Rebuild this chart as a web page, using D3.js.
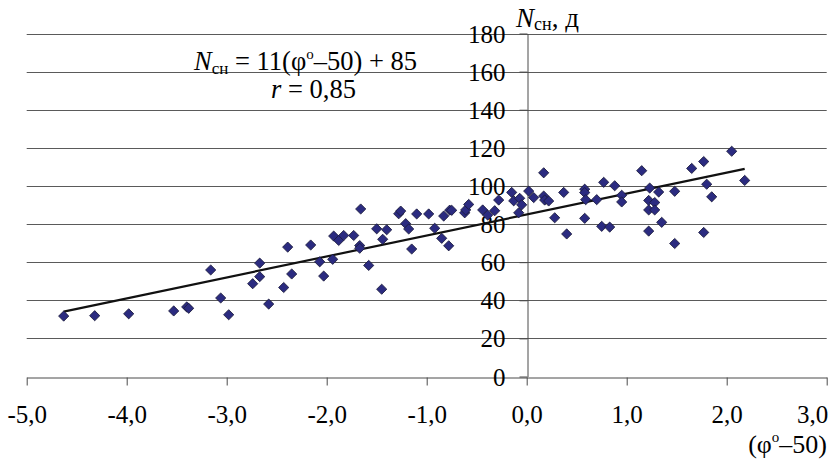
<!DOCTYPE html>
<html>
<head>
<meta charset="utf-8">
<script src="https://cdn.jsdelivr.net/npm/d3@7"></script>
<style>
  body { margin: 0; background: #fff; }
  svg { display: block; }
</style>
</head>
<body>
<svg id="chart" width="840" height="464"></svg>
<script>
// Deviation of latitude from 50° (φ° – 50)
const phiDev = [
  -4.63, -4.32, -3.98, -3.53, -3.40, -3.38, -3.16, -3.06, -2.98, -2.74,
  -2.67, -2.67, -2.58, -2.43, -2.39, -2.35, -2.16, -2.07, -2.03, -1.93,
  -1.94, -1.88, -1.83, -1.73, -1.67, -1.67, -1.66, -1.58, -1.50, -1.44,
  -1.45, -1.40, -1.28, -1.26, -1.21, -1.18, -1.15, -1.10, -0.98, -0.92,
  -0.85, -0.83, -0.78, -0.77, -0.75, -0.62, -0.61, -0.58, -0.44, -0.39,
  -0.32, -0.28, -0.15, -0.13, -0.08, -0.07, -0.05, 0.02, 0.07, 0.17,
  0.17, 0.18, 0.22, 0.28, 0.37, 0.40, 0.58, 0.58, 0.59, 0.58,
  0.70, 0.77, 0.75, 0.83, 0.88, 0.95, 0.95, 1.15, 1.23, 1.32,
  1.22, 1.28, 1.22, 1.28, 1.35, 1.22, 1.48, 1.48, 1.65, 1.77,
  1.80, 1.85, 1.77, 2.05, 2.18
];
// Number of days with snow cover, N сн
const nDays = [
  31.7, 31.9, 32.9, 34.4, 36.5, 35.8, 55.9, 41.2, 32.4, 48.7,
  59.5, 52.4, 38.0, 46.7, 67.9, 53.8, 69.0, 60.2, 52.7, 73.7,
  61.5, 71.4, 74.0, 74.0, 68.7, 67.3, 87.9, 58.3, 77.5, 72.0,
  45.8, 77.0, 85.4, 86.8, 80.2, 77.4, 66.9, 85.3, 85.3, 77.8,
  72.5, 84.2, 68.6, 87.3, 87.2, 85.9, 87.4, 90.3, 87.4, 84.7,
  87.0, 92.6, 96.6, 92.2, 85.9, 93.5, 90.1, 97.3, 93.9, 106.9,
  94.7, 92.6, 92.1, 83.3, 96.6, 74.8, 98.3, 96.5, 92.8, 83.0,
  92.8, 101.9, 78.8, 78.4, 100.1, 95.1, 91.6, 108.0, 98.9, 96.8,
  92.4, 91.3, 87.4, 87.4, 80.9, 76.3, 97.2, 69.8, 109.2, 112.8,
  100.9, 94.3, 75.6, 118.2, 102.9
];
const xTicks = [-5, -4, -3, -2, -1, 0, 1, 2, 3];
const yTicks = [0, 20, 40, 60, 80, 100, 120, 140, 160, 180];
// Linear fit: N сн = 11(φ° – 50) + 85
const fitSlope = 11;
const fitIntercept = 85;

const SERIF = "'Liberation Serif', 'Times New Roman', 'DejaVu Serif', serif";

const svg = d3.select("#chart");
const x = d3.scaleLinear().domain([-5, 3]).range([26.7, 826.7]);
const y = d3.scaleLinear().domain([0, 180]).range([376.5, 33.5]);

const loc = d3.formatLocale({ decimal: ",", thousands: " ", grouping: [3], currency: ["", ""], minus: "-" });
const fmtX = loc.format(".1f");

// Horizontal gridlines
svg.append("g")
  .selectAll("line")
  .data(yTicks.filter(v => v !== 0))
  .join("line")
  .attr("x1", x(-5)).attr("x2", x(3))
  .attr("y1", d => Math.round(y(d)) + 0.5).attr("y2", d => Math.round(y(d)) + 0.5)
  .attr("stroke", "#5a5a5a").attr("stroke-width", 1);

// X axis along N = 0
const xAxis = svg.append("g")
  .attr("transform", `translate(0,${Math.round(y(0)) + 0.5})`)
  .call(d3.axisBottom(x).tickValues(xTicks).tickFormat(fmtX).tickSizeInner(8).tickSizeOuter(0).tickPadding(20));
xAxis.select(".domain").attr("stroke", "#4a4a4a");
xAxis.selectAll(".tick line").attr("stroke", "#4a4a4a");
xAxis.selectAll(".tick text")
  .style("font-family", SERIF).style("font-size", "25px").attr("fill", "#000").attr("dy", "0.71em")
  .filter(d => d === 3).attr("text-anchor", "end").attr("x", 1);

// Y axis at φ° – 50 = 0
const yAxis = svg.append("g")
  .attr("transform", `translate(${Math.round(x(0)) + 0.5},0)`)
  .call(d3.axisLeft(y).tickValues(yTicks).tickSizeInner(8).tickSizeOuter(0).tickPadding(14));
yAxis.select(".domain").attr("stroke", "#4a4a4a");
yAxis.selectAll(".tick line").attr("stroke", "#4a4a4a");
yAxis.selectAll(".tick text")
  .style("font-family", SERIF).style("font-size", "25px").attr("fill", "#000").attr("dy", "0.34em");

// Regression line over the data range
const xr = d3.extent(phiDev);
svg.append("path")
  .datum(xr.map(v => [v, fitSlope * v + fitIntercept]))
  .attr("d", d3.line().x(d => x(d[0])).y(d => y(d[1])))
  .attr("fill", "none").attr("stroke", "#111").attr("stroke-width", 2.2);

// Observation markers
const diamond = d3.symbol(d3.symbolSquare, 52);
svg.append("g")
  .selectAll("path")
  .data(phiDev.map((v, i) => [v, nDays[i]]))
  .join("path")
  .attr("d", diamond)
  .attr("transform", d => `translate(${x(d[0])},${y(d[1])}) rotate(45)`)
  .attr("fill", "#2b2b80").attr("stroke", "#1a1a3a").attr("stroke-width", 0.8);

function serifText(xp, yp, size) {
  return svg.append("text").attr("x", xp).attr("y", yp)
    .style("font-family", SERIF).style("font-size", size + "px").attr("fill", "#000");
}

// Equation and correlation coefficient
const eq = serifText(194, 70, 26.5);
eq.append("tspan").attr("font-style", "italic").text("N");
eq.append("tspan").style("font-size", "17px").attr("dy", 4).text("сн");
eq.append("tspan").attr("dy", -4).text(" = 11(φ");
eq.append("tspan").style("font-size", "15px").attr("dy", -11).text("o");
eq.append("tspan").attr("dy", 11).text("–50) + 85");

const rr = serifText(271, 98, 26.5);
rr.append("tspan").attr("font-style", "italic").text("r");
rr.append("tspan").text(" = 0,85");

// Axis titles
const yt = serifText(516, 27, 27);
yt.append("tspan").attr("font-style", "italic").text("N");
yt.append("tspan").style("font-size", "18px").attr("dy", 3).text("сн");
yt.append("tspan").attr("dy", -3).text(", д");

const xt = serifText(827, 453, 26).attr("text-anchor", "end");
xt.append("tspan").text("(φ");
xt.append("tspan").style("font-size", "15px").attr("dy", -11).text("o");
xt.append("tspan").attr("dy", 11).text("–50)");
</script>
</body>
</html>
